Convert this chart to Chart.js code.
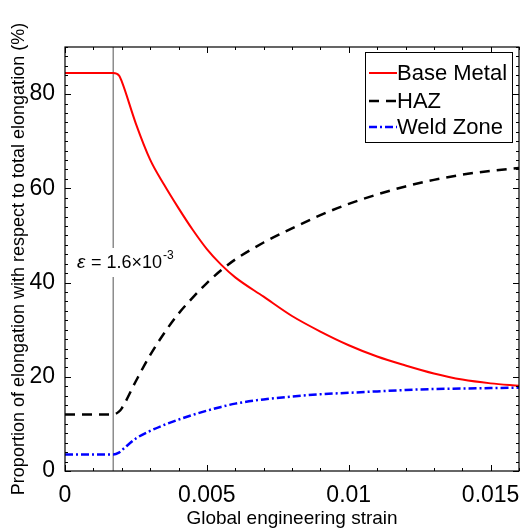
<!DOCTYPE html>
<html>
<head>
<meta charset="utf-8">
<script src="https://cdn.jsdelivr.net/npm/chart.js@4"></script>
<style>
  html, body { margin: 0; padding: 0; background: #fff; }
  #wrap { width: 526px; height: 530px; }
</style>
</head>
<body>
<div id="wrap"><canvas id="elongChart" width="526" height="530"></canvas></div>
<script>
// global engineering strain sample points
const strain = [0, 0.0017, 0.0019, 0.002, 0.0025, 0.003, 0.0035, 0.004, 0.0045, 0.005, 0.0055, 0.006,
  0.007, 0.008, 0.009, 0.010, 0.011, 0.012, 0.013, 0.014, 0.015, 0.016];

const baseMetal = [84.5, 84.5, 84.0, 82.7, 73.7, 66.1, 60.7, 55.8, 51.2, 47.1, 43.8, 41.1,
  37.0, 32.9, 29.6, 26.7, 24.3, 22.4, 20.7, 19.4, 18.6, 18.1];
const haz = [12.0, 12.0, 12.6, 13.3, 19.1, 24.6, 29.3, 33.4, 36.8, 39.9, 42.6, 44.9,
  48.5, 51.5, 54.3, 56.7, 58.7, 60.4, 61.8, 62.9, 63.7, 64.3];
const weldZone = [3.5, 3.5, 3.9, 4.4, 6.9, 8.5, 9.8, 10.9, 11.9, 12.8, 13.6, 14.3,
  15.2, 15.8, 16.3, 16.6, 16.9, 17.2, 17.4, 17.5, 17.6, 17.7];

const seriesNames = ['Base Metal', 'HAZ', 'Weld Zone'];
const xTickValues = [0, 0.005, 0.01, 0.015];
const xTickLabels = ['0', '0.005', '0.01', '0.015'];
const yTickValues = [0, 20, 40, 60, 80];
const markerStrain = 0.0017;
const markerRange = [0, 90];

const FONT = '"Liberation Sans", Arial, sans-serif';
const toPoints = (ys) => ys.map((y, i) => ({ x: strain[i], y: y }));

// frame, inward ticks, annotation and legend
const framePlugin = {
  id: 'frame',
  afterDatasetsDraw(chart) {
    const ctx = chart.ctx;
    const area = chart.chartArea;
    const xs = chart.scales.x;
    const ys = chart.scales.y;
    ctx.save();

    // annotation, white backing breaks the marker line
    const tx = 77, ty = 263;
    ctx.fillStyle = '#fff';
    ctx.fillRect(tx - 2, ty - 15, 100, 29);
    ctx.fillStyle = '#000';
    ctx.textBaseline = 'middle';
    ctx.font = 'italic 19px ' + FONT;
    ctx.fillText('ε', tx, ty);
    ctx.font = '18px ' + FONT;
    let w = ctx.measureText('ε').width + 1;
    ctx.fillText(' = 1.6×10', tx + w, ty);
    w += ctx.measureText(' = 1.6×10').width;
    ctx.font = '12px ' + FONT;
    ctx.fillText('-3', tx + w + 1, ty - 7);

    // ticks on all four sides, pointing in
    ctx.strokeStyle = '#000';
    ctx.lineWidth = 1;
    ctx.beginPath();
    for (let i = 0; i <= 16; i++) {
      const px = Math.round(xs.getPixelForValue(i * 0.001)) + 0.5;
      const len = i % 5 === 0 ? 6 : 3;
      ctx.moveTo(px, area.bottom); ctx.lineTo(px, area.bottom - len);
      ctx.moveTo(px, area.top); ctx.lineTo(px, area.top + len);
    }
    for (let v = 0; v <= 90; v += 2) {
      const py = Math.round(ys.getPixelForValue(v)) + 0.5;
      const len = v % 20 === 0 ? 6 : 3;
      ctx.moveTo(area.left, py); ctx.lineTo(area.left + len, py);
      ctx.moveTo(area.right, py); ctx.lineTo(area.right - len, py);
    }
    ctx.stroke();

    ctx.lineWidth = 1.2;
    ctx.strokeRect(area.left, area.top, area.right - area.left, area.bottom - area.top);

    // legend box
    const lx = 365, ly = 52, lw = 147, lh = 90;
    ctx.fillStyle = '#fff';
    ctx.fillRect(lx, ly, lw, lh);
    ctx.lineWidth = 1;
    ctx.strokeRect(lx + 0.5, ly + 0.5, lw, lh);
    const rows = [73, 101, 127];
    chart.data.datasets.slice(0, 3).forEach((ds, i) => {
      ctx.strokeStyle = ds.borderColor;
      ctx.lineWidth = ds.borderWidth;
      ctx.setLineDash(ds.borderDash || []);
      ctx.beginPath();
      ctx.moveTo(lx + 4, rows[i]);
      ctx.lineTo(lx + 32, rows[i]);
      ctx.stroke();
      ctx.setLineDash([]);
      ctx.fillStyle = '#000';
      ctx.font = '22px ' + FONT;
      ctx.textBaseline = 'middle';
      ctx.fillText(ds.label, lx + 32, rows[i] + 1);
    });
    ctx.restore();
  }
};

new Chart(document.getElementById('elongChart').getContext('2d'), {
  type: 'line',
  data: {
    datasets: [
      {
        label: seriesNames[0],
        data: toPoints(baseMetal),
        borderColor: '#ff0000',
        borderWidth: 2,
        cubicInterpolationMode: 'monotone',
        pointRadius: 0,
        fill: false,
      },
      {
        label: seriesNames[1],
        data: toPoints(haz),
        borderColor: '#000000',
        borderWidth: 2.5,
        borderDash: [10, 7],
        cubicInterpolationMode: 'monotone',
        pointRadius: 0,
        fill: false,
      },
      {
        label: seriesNames[2],
        data: toPoints(weldZone),
        borderColor: '#0000ff',
        borderWidth: 2.5,
        borderDash: [8, 3, 2, 3],
        cubicInterpolationMode: 'monotone',
        pointRadius: 0,
        fill: false,
      },
      {
        label: 'marker',
        data: markerRange.map((y) => ({ x: markerStrain, y: y })),
        borderColor: '#8c8c8c',
        borderWidth: 1.5,
        pointRadius: 0,
        order: 5,
      },
    ],
  },
  options: {
    responsive: false,
    animation: false,
    layout: { padding: { top: 47, right: 7, left: 0, bottom: 0 } },
    plugins: {
      legend: { display: false },
      tooltip: { enabled: false },
    },
    scales: {
      x: {
        type: 'linear',
        min: 0,
        max: 0.016,
        grid: { display: false },
        border: { display: false },
        afterBuildTicks: (scale) => { scale.ticks = xTickValues.map((v) => ({ value: v })); },
        afterFit: (scale) => { scale.height = 59; },
        ticks: {
          color: '#000',
          padding: 3,
          maxRotation: 0,
          font: { size: 23, family: FONT },
          callback: (v) => xTickLabels[xTickValues.indexOf(v)],
        },
        title: {
          display: true,
          text: 'Global engineering strain',
          color: '#000',
          padding: { top: 0, bottom: 0 },
          font: { size: 19, family: FONT },
        },
      },
      y: {
        min: 0,
        max: 90,
        grid: { display: false },
        border: { display: false },
        afterBuildTicks: (scale) => { scale.ticks = yTickValues.map((v) => ({ value: v })); },
        afterFit: (scale) => { scale.width = 65; },
        ticks: {
          color: '#000',
          padding: 2,
          font: { size: 23, family: FONT },
        },
        title: {
          display: true,
          text: 'Proportion of elongation with respect to total elongation (%)',
          color: '#000',
          padding: { top: 8, bottom: 0 },
          font: { size: 18, family: FONT },
        },
      },
    },
  },
  plugins: [framePlugin],
});
</script>
</body>
</html>
